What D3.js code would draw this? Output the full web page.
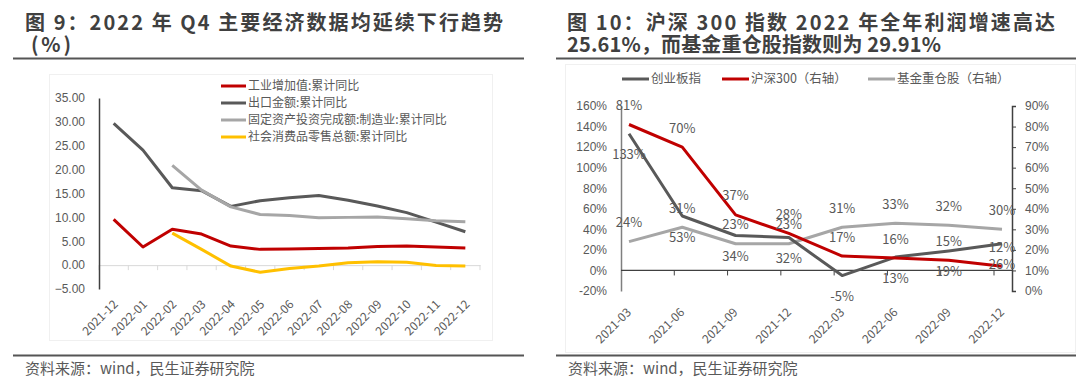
<!DOCTYPE html>
<html>
<head>
<meta charset="utf-8">
<script src="https://cdn.jsdelivr.net/npm/d3@7"></script>
<style>
  body { margin: 0; background: #fff; }
  svg { display: block; font-family: "Noto Sans CJK SC", "Noto Sans", sans-serif; }
</style>
</head>
<body>
<svg width="1080" height="386"></svg>
<script>
// ---- left chart data (图9) ----
var months = ["2021-12", "2022-01", "2022-02", "2022-03", "2022-04", "2022-05", "2022-06",
              "2022-07", "2022-08", "2022-09", "2022-10", "2022-11", "2022-12"];
var industry = [9.6, 3.8, 7.5, 6.5, 4.0, 3.3, 3.4, 3.5, 3.6, 3.9, 4.0, 3.8, 3.6];
var exportAmt = [29.7, 24.1, 16.2, 15.6, 12.3, 13.5, 14.1, 14.6, 13.6, 12.4, 11.0, 9.0, 7.0];
var fixedInv = [null, null, 20.9, 15.7, 12.2, 10.6, 10.4, 9.9, 10.0, 10.1, 9.7, 9.3, 9.1];
var retail = [null, null, 6.7, 3.3, -0.2, -1.5, -0.7, -0.2, 0.5, 0.7, 0.6, -0.1, -0.2];
var leftTicks = [-5, 0, 5, 10, 15, 20, 25, 30, 35];
var leftNames = ["工业增加值:累计同比", "出口金额:累计同比", "固定资产投资完成额:制造业:累计同比", "社会消费品零售总额:累计同比"];

// ---- right chart data (图10) ----
var quarters = ["2021-03", "2021-06", "2021-09", "2021-12", "2022-03", "2022-06", "2022-09", "2022-12"];
var chinext = [133, 53, 34, 32, -5, 13, 19, 26];
var hs300 = [81, 70, 37, 28, 17, 16, 15, 12];
var fundHeavy = [24, 31, 23, 23, 31, 33, 32, 30];
var rightTicksL = [-20, 0, 20, 40, 60, 80, 100, 120, 140, 160];
var rightTicksR = [0, 10, 20, 30, 40, 50, 60, 70, 80, 90];
var rightNames = ["创业板指", "沪深300（右轴）", "基金重仓股（右轴）"];

var svg = d3.select("svg"),
    textColor = "#595959",
    titleColor = "#404040";

// titles, rules, sources
function header(x0, x1, lines, source) {
  lines.forEach(function(t, i) {
    var tt = svg.append("text")
      .attr("x", t.x).attr("y", 30 + i * 22)
      .attr("fill", titleColor)
      .style("font-size", "20px").style("font-weight", "bold")
      .text(t.s);
    if (t.len) tt.attr("textLength", t.len).attr("lengthAdjust", "spacing");
  });
  svg.append("line").attr("x1", x0).attr("x2", x1).attr("y1", 58.5).attr("y2", 58.5)
    .attr("stroke", "#555").attr("stroke-width", 2);
  svg.append("line").attr("x1", x0).attr("x2", x1).attr("y1", 355.5).attr("y2", 355.5)
    .attr("stroke", "#555").attr("stroke-width", 2);
  svg.append("text").attr("x", x0 + 12).attr("y", 374)
    .attr("fill", textColor).style("font-size", "15px").text(source);
}
header(13, 524, [{x: 25, s: "图 9：2022 年 Q4 主要经济数据均延续下行趋势", len: 478}, {x: 31, s: "(%)", len: 40}],
  "资料来源：wind，民生证券研究院");
header(556, 1076, [{x: 567, s: "图 10：沪深 300 指数 2022 年全年利润增速高达", len: 488}, {x: 567, s: "25.61%，而基金重仓股指数则为 29.91%", len: 374}],
  "资料来源：wind，民生证券研究院");

// ================= left chart =================
svg.append("rect").attr("x", 49.5).attr("y", 74.5).attr("width", 443).attr("height", 266)
  .attr("fill", "none").attr("stroke", "#f0f0f0");

var x1 = d3.scaleBand().domain(months).range([99, 480]),
    y1 = d3.scaleLinear().domain([-5, 35]).range([289, 98]);

var gx1 = svg.append("g").attr("transform", "translate(0," + y1(0) + ")")
  .call(d3.axisBottom(x1).tickSize(0).tickFormat(""));
gx1.select(".domain").attr("stroke", "#d9d9d9");
svg.append("g").selectAll("line")
  .data(months.concat(["end"]))
  .enter().append("line")
  .attr("x1", function(d, i) { return x1.range()[0] + i * x1.step(); })
  .attr("x2", function(d, i) { return x1.range()[0] + i * x1.step(); })
  .attr("y1", y1(0)).attr("y2", y1(0) + 5)
  .attr("stroke", "#d9d9d9");

svg.append("g").selectAll("text")
  .data(months).enter().append("text")
  .attr("transform", function(d) { return "translate(" + (x1(d) + x1.bandwidth() / 2 + 5) + ",305) rotate(-45)"; })
  .attr("text-anchor", "end")
  .attr("fill", textColor).style("font-size", "12px")
  .text(function(d) { return d; });

var gy1 = svg.append("g").attr("transform", "translate(99,0)")
  .call(d3.axisLeft(y1).tickValues(leftTicks).tickSize(0).tickPadding(14).tickFormat(d3.format(".2f")));
gy1.select(".domain").attr("stroke", "#404040").attr("stroke-width", 1.5);
gy1.selectAll("text").attr("fill", textColor).style("font-size", "12px").style("font-family", "inherit");

var leftSeries = [
  {name: leftNames[0], values: industry, color: "#C00000"},
  {name: leftNames[1], values: exportAmt, color: "#595959"},
  {name: leftNames[2], values: fixedInv, color: "#A6A6A6"},
  {name: leftNames[3], values: retail, color: "#FFC000"}
];
var line1 = d3.line()
  .defined(function(d) { return d.v != null; })
  .x(function(d) { return x1(d.m) + x1.bandwidth() / 2; })
  .y(function(d) { return y1(d.v); });

svg.append("g").selectAll("path")
  .data(leftSeries).enter().append("path")
  .attr("fill", "none").attr("stroke-width", 3).attr("stroke-linejoin", "round")
  .attr("stroke", function(d) { return d.color; })
  .attr("d", function(d) { return line1(d.values.map(function(v, i) { return {m: months[i], v: v}; })); });

var leg1 = svg.append("g").selectAll("g")
  .data(leftSeries).enter().append("g")
  .attr("transform", function(d, i) { return "translate(221," + (86 + i * 17) + ")"; });
leg1.append("line").attr("x1", 0).attr("x2", 25).attr("stroke-width", 3)
  .attr("stroke", function(d) { return d.color; });
leg1.append("text").attr("x", 27).attr("dy", "0.35em")
  .attr("fill", textColor).style("font-size", "12px")
  .text(function(d) { return d.name; });

// ================= right chart =================
svg.append("rect").attr("x", 565.5).attr("y", 64.5).attr("width", 510).attr("height", 288)
  .attr("fill", "none").attr("stroke", "#f0f0f0");

var x2 = d3.scalePoint().domain(quarters).range([629, 1002]),
    yL = d3.scaleLinear().domain([-20, 160]).range([291, 106]),
    yR = d3.scaleLinear().domain([0, 90]).range([291, 106]);

var gyL = svg.append("g").attr("transform", "translate(621,0)")
  .call(d3.axisLeft(yL).tickValues(rightTicksL).tickSize(0).tickPadding(14).tickFormat(function(d) { return d + "%"; }));
gyL.select(".domain").attr("stroke", "#7f7f7f").attr("stroke-width", 1.5);
gyL.selectAll("text").attr("fill", textColor).style("font-size", "12px").style("font-family", "inherit");

var gyR = svg.append("g").attr("transform", "translate(1012,0)")
  .call(d3.axisRight(yR).tickValues(rightTicksR).tickSize(4).tickPadding(9).tickFormat(function(d) { return d + "%"; }));
gyR.select(".domain").attr("stroke", "#404040").attr("stroke-width", 1.5);
gyR.selectAll("line").attr("stroke", "#404040");
gyR.selectAll("text").attr("fill", textColor).style("font-size", "12px").style("font-family", "inherit");

svg.append("line").attr("x1", 621).attr("x2", 1012).attr("y1", yL(0)).attr("y2", yL(0))
  .attr("stroke", "#404040").attr("stroke-width", 1.2);
svg.append("g").selectAll("line")
  .data(quarters.slice(1)).enter().append("line")
  .attr("x1", function(d) { return x2(d) - 8; })
  .attr("x2", function(d) { return x2(d) - 8; })
  .attr("y1", yL(0)).attr("y2", yL(0) + 5)
  .attr("stroke", "#404040");

svg.append("g").selectAll("text")
  .data(quarters).enter().append("text")
  .attr("transform", function(d) { return "translate(" + (x2(d) + 3) + ",313) rotate(-45)"; })
  .attr("text-anchor", "end")
  .attr("fill", textColor).style("font-size", "12px")
  .text(function(d) { return d; });

var rightSeries = [
  {name: rightNames[0], values: chinext, color: "#595959", y: yL, dy: 21},
  {name: rightNames[1], values: hs300, color: "#C00000", y: yR, dy: -19},
  {name: rightNames[2], values: fundHeavy, color: "#A6A6A6", y: yR, dy: -19}
];

svg.append("g").selectAll("path")
  .data([rightSeries[2], rightSeries[0], rightSeries[1]]).enter().append("path")
  .attr("fill", "none").attr("stroke-width", 3).attr("stroke-linejoin", "round")
  .attr("stroke", function(d) { return d.color; })
  .attr("d", function(s) {
    return d3.line()
      .x(function(d, i) { return x2(quarters[i]); })
      .y(function(d) { return s.y(d); })(s.values);
  });

rightSeries.forEach(function(s) {
  svg.append("g").selectAll("text")
    .data(s.values).enter().append("text")
    .attr("x", function(d, i) { return x2(quarters[i]); })
    .attr("y", function(d) { return s.y(d) + s.dy; })
    .attr("dy", "0.35em")
    .attr("text-anchor", "middle")
    .attr("fill", textColor).style("font-size", "13px")
    .text(function(d) { return d + "%"; });
});

var legX = [622, 722, 868];
var leg2 = svg.append("g").selectAll("g")
  .data(rightSeries).enter().append("g")
  .attr("transform", function(d, i) { return "translate(" + legX[i] + ",79)"; });
leg2.append("line").attr("x1", 0).attr("x2", 27).attr("stroke-width", 3)
  .attr("stroke", function(d) { return d.color; });
leg2.append("text").attr("x", 29).attr("dy", "0.35em")
  .attr("fill", textColor).style("font-size", "12.5px")
  .text(function(d) { return d.name; });
</script>
</body>
</html>
